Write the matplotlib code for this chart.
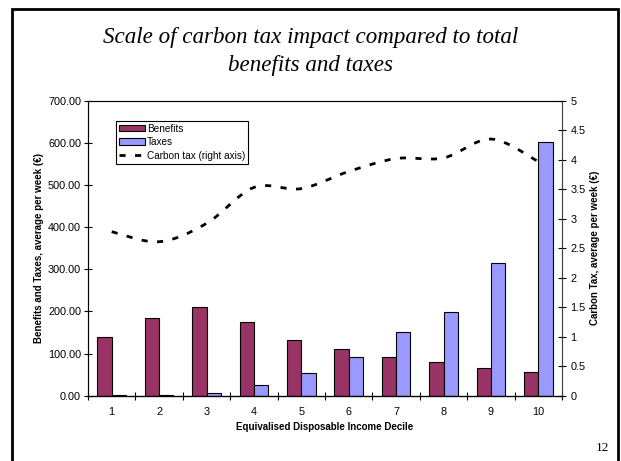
import numpy as np
import matplotlib
matplotlib.use("Agg")
import matplotlib.pyplot as plt
from matplotlib.path import Path
from matplotlib.patches import PathPatch, Rectangle
from matplotlib.lines import Line2D
from matplotlib.patches import Patch

# deciles and weekly averages (euro)
deciles = [1, 2, 3, 4, 5, 6, 7, 8, 9, 10]
benefits = [140, 184, 210, 176, 133, 111, 93, 79, 66, 56]
taxes = [1, 2, 6.5, 26, 53, 93, 152, 198, 316, 601]
carbon_tax = [2.78, 2.61, 2.92, 3.53, 3.51, 3.80, 4.02, 4.03, 4.35, 3.97]

left_ticks = np.arange(0, 701, 100)
right_ticks = np.arange(0, 5.01, 0.5)

BEN_COL = "#993366"
TAX_COL = "#9999FF"
sans = "Liberation Sans"
serif = "Liberation Serif"

fig = plt.figure(figsize=(6.21, 4.61), dpi=100)

# slide frame
fig.add_artist(Rectangle((11.5 / 621, -0.05), (618 - 11.5) / 621, 1.05 - 9 / 461,
                         transform=fig.transFigure, fill=False, lw=2.0,
                         edgecolor="black"))

fig.text(0.5, 1 - 37 / 461, "Scale of carbon tax impact compared to total",
         ha="center", va="center", family=serif, style="italic", fontsize=16.6)
fig.text(0.5, 1 - 65 / 461, "benefits and taxes",
         ha="center", va="center", family=serif, style="italic", fontsize=16.6)
fig.text(602 / 621, 1 - 448 / 461, "12", ha="center", va="center",
         family=serif, fontsize=9.5)

ax = fig.add_axes([88 / 621, 65.3 / 461, 474 / 621, 295 / 461])
x = np.array(deciles)
w = 0.3
ax.bar(x - w / 2, benefits, width=w, color=BEN_COL, edgecolor="black", lw=0.8,
       zorder=2)
ax.bar(x + w / 2, taxes, width=w, color=TAX_COL, edgecolor="black", lw=0.8,
       zorder=2)
ax.set_xlim(0.5, 10.5)
ax.set_ylim(0, 700)
ax.set_yticks(left_ticks)
ax.set_yticklabels([f"{v:.2f}" for v in left_ticks])
ax.set_xticks(x)
ax.set_xticklabels([str(d) for d in deciles])
ax.set_xticks(np.arange(0.5, 10.6, 1), minor=True)
ax.tick_params(axis="x", which="major", length=0, pad=8)
ax.tick_params(axis="x", which="minor", direction="inout", length=6, width=0.8)
ax.tick_params(axis="y", direction="inout", length=6, width=0.8, pad=2)
ax.tick_params(labelsize=7.8)
for lab in ax.get_xticklabels() + ax.get_yticklabels():
    lab.set_family(sans)
for side in ["top", "left", "right"]:
    ax.spines[side].set_color("#808080")
    ax.spines[side].set_linewidth(0.8)
ax.spines["bottom"].set_color("black")
ax.spines["bottom"].set_linewidth(0.9)
ax.spines["left"].set_color("#404040")
ax.set_xlabel("Equivalised Disposable Income Decile", family=sans,
              fontweight="bold", fontsize=7, labelpad=4)
ax.set_ylabel("Benefits and Taxes, average per week (\u20ac)", family=sans,
              fontweight="bold", fontsize=7, labelpad=3)

ax2 = ax.twinx()
ax2.set_ylim(0, 5)
ax2.set_yticks(right_ticks)
ax2.set_yticklabels([f"{v:g}" for v in right_ticks])
ax2.tick_params(axis="y", direction="inout", length=6, width=0.8, pad=3,
                labelsize=7.8)
for lab in ax2.get_yticklabels():
    lab.set_family(sans)
ax2.spines["right"].set_color("#404040")
ax2.spines["right"].set_linewidth(0.8)
ax2.set_ylabel("Carbon Tax, average per week (\u20ac)", family=sans,
               fontweight="bold", fontsize=7, labelpad=3)

# smoothed carbon tax line: Catmull-Rom segments as cubic Bezier curves
px = np.array(deciles, dtype=float)
py = np.array(carbon_tax, dtype=float)
verts = [(px[0], py[0])]
codes = [Path.MOVETO]
n = len(px)
for i in range(n - 1):
    p0 = (px[max(i - 1, 0)], py[max(i - 1, 0)])
    p1 = (px[i], py[i])
    p2 = (px[i + 1], py[i + 1])
    p3 = (px[min(i + 2, n - 1)], py[min(i + 2, n - 1)])
    c1 = (p1[0] + (p2[0] - p0[0]) / 6, p1[1] + (p2[1] - p0[1]) / 6)
    c2 = (p2[0] - (p3[0] - p1[0]) / 6, p2[1] - (p3[1] - p1[1]) / 6)
    verts += [c1, c2, p2]
    codes += [Path.CURVE4] * 3
ax2.add_patch(PathPatch(Path(verts, codes), fill=False, edgecolor="black",
                        lw=2.0, linestyle=(0, (2.2, 3.4)), zorder=3))

handles = [Patch(facecolor=BEN_COL, edgecolor="black", lw=0.8),
           Patch(facecolor=TAX_COL, edgecolor="black", lw=0.8),
           Line2D([], [], color="black", lw=2.0, linestyle=(0, (2.2, 3.4)))]
leg = ax.legend(handles, ["Benefits", "Taxes", "Carbon tax (right axis)"],
                loc="upper left", bbox_to_anchor=(28 / 474, 1 - 20 / 295),
                prop={"family": sans, "size": 7.2}, frameon=True, fancybox=False,
                framealpha=1, edgecolor="black", borderpad=0.3,
                labelspacing=0.35, handlelength=2.6, handleheight=0.6,
                handletextpad=0.2, borderaxespad=0)
leg.get_frame().set_linewidth(0.8)

fig.savefig("out.png", dpi=100)
